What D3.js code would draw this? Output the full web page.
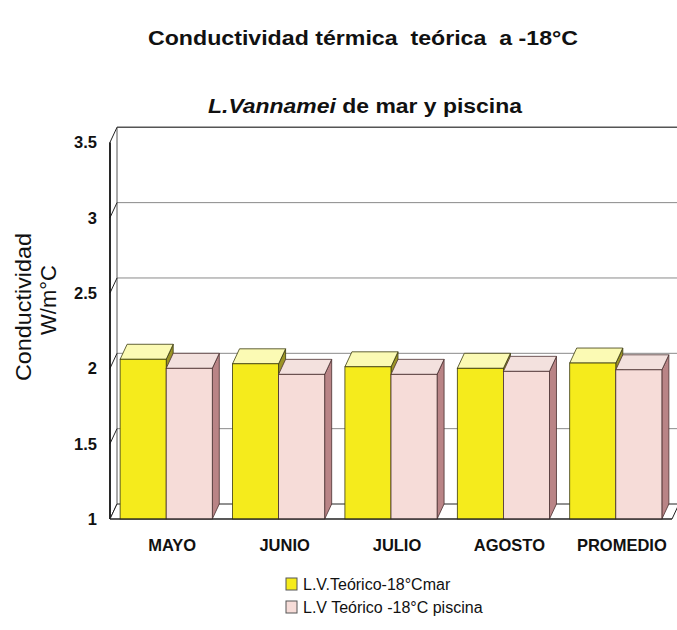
<!DOCTYPE html>
<html>
<head>
<meta charset="utf-8">
<script src="https://cdn.jsdelivr.net/npm/d3@7"></script>
<style>
  html, body { margin: 0; padding: 0; background: #fff; }
  svg { display: block; font-family: "Liberation Sans", Arial, sans-serif; }
  .keep-space { white-space: pre; }
</style>
</head>
<body>
<svg id="chart" width="677" height="630"></svg>
<script>
// Categories and the two series (W/m°C)
const months = ["MAYO", "JUNIO", "JULIO", "AGOSTO", "PROMEDIO"];
const seriesNames = ["L.V.Teórico-18°Cmar", "L.V Teórico -18°C piscina"];
const marValues = [2.06, 2.03, 2.01, 2.00, 2.035];
const piscinaValues = [2.00, 1.96, 1.96, 1.98, 1.99];
const yTicks = [1, 1.5, 2, 2.5, 3, 3.5];

const svg = d3.select("#chart");

// Front plane of the 3D box; the back plane is shifted by (depthX, -depthY)
const frontLeft = 110, frontRight = 672;
const depthX = 7, depthY = 15;

const x = d3.scaleBand().domain(months).range([frontLeft, frontRight]).paddingInner(0.18).paddingOuter(0.09);
const xInner = d3.scaleBand().domain([0, 1]).range([0, x.bandwidth()]);
const y = d3.scaleLinear().domain([1, 3.5]).range([519, 142.3]);

const faces = [
  { front: "#f5eb1c", top: "#fbfab4", side: "#9b9426", stroke: "#3a3a10" },
  { front: "#f6dcd8", top: "#f3e1de", side: "#b98486", stroke: "#4a3030" }
];

// Back wall gridlines
svg.append("g").selectAll("line").data(yTicks.slice(1)).join("line")
  .attr("x1", frontLeft + depthX).attr("x2", 677)
  .attr("y1", d => y(d) - depthY).attr("y2", d => y(d) - depthY)
  .attr("stroke", d => d === 3.5 ? "#555" : "#8a8a8a")
  .attr("stroke-width", d => d === 3.5 ? 1.4 : 1);

// Left wall: front axis, back edge, and the tick diagonals
const wall = svg.append("g");
wall.append("line")
  .attr("x1", frontLeft + depthX).attr("x2", frontLeft + depthX)
  .attr("y1", y(3.5) - depthY).attr("y2", y(1) - depthY)
  .attr("stroke", "#555").attr("stroke-width", 1);
wall.selectAll("line.tk").data(yTicks).join("line").attr("class", "tk")
  .attr("x1", frontLeft).attr("y1", d => y(d))
  .attr("x2", frontLeft + depthX).attr("y2", d => y(d) - depthY)
  .attr("stroke", "#222").attr("stroke-width", 1);
wall.append("line")
  .attr("x1", frontLeft).attr("x2", frontLeft)
  .attr("y1", y(3.5)).attr("y2", y(1))
  .attr("stroke", "#111").attr("stroke-width", 1.8);

// Floor
const y0 = y(1);
svg.append("path")
  .attr("d", `M${frontLeft},${y0} L${frontRight},${y0} L${frontRight + depthX},${y0 - depthY} L${frontLeft + depthX},${y0 - depthY} Z`)
  .attr("fill", "#fff").attr("stroke", "#222").attr("stroke-width", 1);

// Bars as boxes: front face, top face and right side face
const bars = [];
months.forEach((m, i) => {
  [marValues[i], piscinaValues[i]].forEach((v, s) => {
    bars.push({ m, s, v });
  });
});

const barG = svg.append("g");
bars.forEach(b => {
  const x0 = x(b.m) + xInner(b.s);
  const x1 = x0 + xInner.bandwidth();
  const yt = y(b.v);
  const f = faces[b.s];
  const g = barG.append("g");
  // side
  g.append("path")
    .attr("d", `M${x1},${y0} L${x1 + depthX},${y0 - depthY} L${x1 + depthX},${yt - depthY} L${x1},${yt} Z`)
    .attr("fill", f.side).attr("stroke", f.stroke).attr("stroke-width", 0.8);
  // top
  g.append("path")
    .attr("d", `M${x0},${yt} L${x1},${yt} L${x1 + depthX},${yt - depthY} L${x0 + depthX},${yt - depthY} Z`)
    .attr("fill", f.top).attr("stroke", f.stroke).attr("stroke-width", 0.8);
  // front
  g.append("rect")
    .attr("x", x0).attr("y", yt).attr("width", x1 - x0).attr("height", y0 - yt)
    .attr("fill", f.front).attr("stroke", f.stroke).attr("stroke-width", 0.8);
});

// Front floor edge drawn over the bar bottoms
svg.append("line")
  .attr("x1", frontLeft).attr("x2", frontRight).attr("y1", y0).attr("y2", y0)
  .attr("stroke", "#222").attr("stroke-width", 1.2);

// Y tick labels
svg.append("g").selectAll("text").data(yTicks).join("text")
  .attr("x", 97).attr("y", d => y(d)).attr("dy", "0.36em")
  .attr("text-anchor", "end")
  .attr("font-size", 16.5).attr("font-weight", "bold").attr("fill", "#111")
  .text(d => d);

// X category labels
svg.append("g").selectAll("text").data(months).join("text")
  .attr("x", d => x(d) + x.bandwidth() / 2 + 6).attr("y", 551)
  .attr("text-anchor", "middle")
  .attr("font-size", 16.5).attr("font-weight", "bold").attr("fill", "#111")
  .text(d => d);

// Y axis title
const yTitle = svg.append("g");
yTitle.append("text")
  .attr("transform", "translate(31,307) rotate(-90)")
  .attr("text-anchor", "middle")
  .attr("font-size", 22).attr("fill", "#111")
  .attr("textLength", 148).attr("lengthAdjust", "spacingAndGlyphs")
  .text("Conductividad");
yTitle.append("text")
  .attr("transform", "translate(56,300) rotate(-90)")
  .attr("text-anchor", "middle")
  .attr("font-size", 22).attr("fill", "#111")
  .text("W/m°C");

// Titles
svg.append("text")
  .attr("class", "keep-space")
  .attr("x", 148).attr("y", 45)
  .attr("textLength", 430).attr("lengthAdjust", "spacingAndGlyphs")
  .attr("font-size", 21).attr("font-weight", "bold").attr("fill", "#111")
  .text("Conductividad térmica  teórica  a -18°C");

const sub = svg.append("text")
  .attr("x", 208).attr("y", 113)
  .attr("textLength", 314).attr("lengthAdjust", "spacingAndGlyphs")
  .attr("font-size", 20).attr("font-weight", "bold").attr("fill", "#111");
sub.append("tspan").attr("font-style", "italic").text("L.Vannamei");
sub.append("tspan").text(" de mar y piscina");

// Legend
const legend = svg.append("g");
seriesNames.forEach((name, i) => {
  const ly = 578 + i * 23;
  legend.append("rect")
    .attr("x", 286).attr("y", ly).attr("width", 11).attr("height", 12)
    .attr("fill", faces[i].front).attr("stroke", "#555").attr("stroke-width", 1);
  legend.append("text")
    .attr("x", 303).attr("y", ly + 11.5)
    .attr("font-size", 16).attr("fill", "#111")
    .text(name);
});
</script>
</body>
</html>
